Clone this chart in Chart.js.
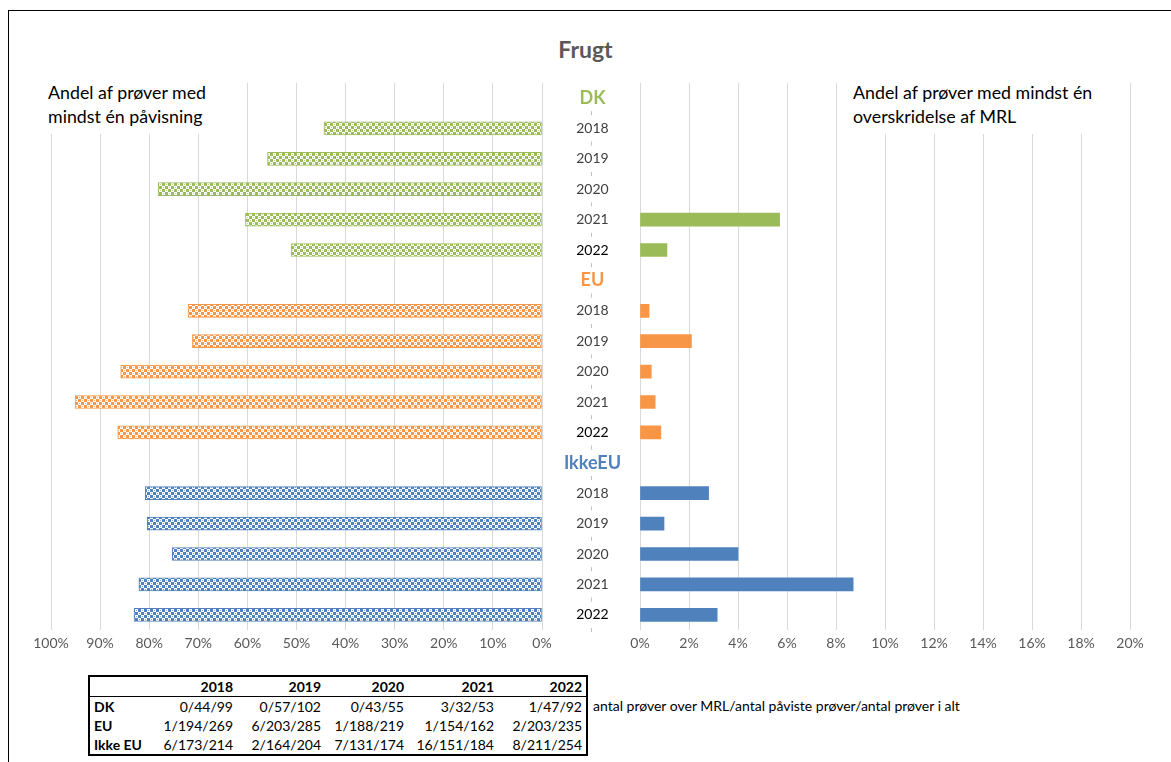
<!DOCTYPE html>
<html lang="da">
<head>
<meta charset="utf-8">
<title>Frugt</title>
<script src="https://cdn.jsdelivr.net/npm/chart.js@4.4.0/dist/chart.umd.min.js"></script>
<style>
    html, body { margin: 0; padding: 0; background: #fff; }
    body { width: 1171px; height: 762px; position: relative; overflow: hidden; font-family: Lato, "Open Sans", sans-serif; }
    .frame { position: absolute; left: 8px; top: 10px; right: -2px; bottom: -2px; border-left: 1px solid #000; border-top: 1px solid #000; }
    .title { position: absolute; left: 0; width: 1171px; top: 35px; text-align: center; font-weight: bold; font-size: 23px; color: #595959; }
    .note { position: absolute; z-index: 2; background: #fff; padding: 2px 8px 6px 8px; font-size: 17.8px; line-height: 24px; color: #000; white-space: nowrap; }
    .box { position: absolute; z-index: 1; }
    table.counts { position: absolute; left: 88px; top: 675px; border-collapse: collapse; border: 2px solid #000; font-size: 14px; table-layout: fixed; }
    table.counts td, table.counts th { padding: 0 4px; height: 19px; text-align: right; white-space: nowrap; }
    table.counts th { font-weight: bold; }
    table.counts thead tr { border-bottom: 1px solid #000; }
    table.counts td.row { text-align: left; font-weight: bold; }
    .legend-text { position: absolute; left: 593px; top: 697px; font-size: 14px; white-space: nowrap; }
</style>
</head>
<body>
<div class="frame"></div>
<div class="title">Frugt</div>
<div class="note" style="left:40px; top:78px;">Andel af prøver med<br>mindst én påvisning</div>
<div class="note" style="left:845px; top:78px;">Andel af prøver med mindst én<br>overskridelse af MRL</div>

<div class="box" style="left:0; top:0;"><canvas id="leftChart" width="552" height="660"></canvas></div>
<div class="box" style="left:542px; top:0;"><canvas id="rightChart" width="629" height="660"></canvas></div>

<table class="counts" id="countsTable"></table>
<div class="legend-text">antal prøver over MRL/antal påviste prøver/antal prøver i alt</div>

<script>
// Categories
const groups = ['DK', 'EU', 'IkkeEU'];
const years = ['2018', '2019', '2020', '2021', '2022'];
const groupColors = ['#9BBB59', '#F79646', '#4F81BD'];

// Andel af prøver med mindst én påvisning (%)
const detectDK = [44.4, 55.9, 78.2, 60.4, 51.1];
const detectEU = [72.1, 71.2, 85.8, 95.1, 86.4];
const detectIkkeEU = [80.8, 80.4, 75.3, 82.1, 83.1];

// Andel af prøver med mindst én overskridelse af MRL (%)
const mrlDK = [0, 0, 0, 5.7, 1.1];
const mrlEU = [0.37, 2.1, 0.46, 0.62, 0.85];
const mrlIkkeEU = [2.8, 0.98, 4.0, 8.7, 3.15];

// Axis ticks
const leftTicks = [0, 10, 20, 30, 40, 50, 60, 70, 80, 90, 100];
const rightTicks = [0, 2, 4, 6, 8, 10, 12, 14, 16, 18, 20];

// Table of counts (over MRL / detected / total)
const tableRows = ['DK', 'EU', 'Ikke EU'];
const countsDK = ['0/44/99', '0/57/102', '0/43/55', '3/32/53', '1/47/92'];
const countsEU = ['1/194/269', '6/203/285', '1/188/219', '1/154/162', '2/203/235'];
const countsIkkeEU = ['6/173/214', '2/164/204', '7/131/174', '16/151/184', '8/211/254'];

const CHART_TOP = 82.8;
const AXIS_HEIGHT = 30;

/**
 * Builds the 18 category rows: a header per group followed by its years.
 */
function buildRows() {
    const labels = [];
    const groupOf = [];
    groups.forEach((g, gi) => {
        labels.push(g);
        groupOf.push({ group: gi, header: true });
        years.forEach(y => {
            labels.push(y);
            groupOf.push({ group: gi, header: false });
        });
    });
    return { labels, groupOf };
}

/**
 * Flattens the group series into one list, with null on header rows.
 */
function flatten(series) {
    const out = [];
    series.forEach(values => {
        out.push(null);
        values.forEach(v => out.push(v));
    });
    return out;
}

/**
 * Makes a small checker pattern in the given colour.
 */
function makePattern(color) {
    const tile = document.createElement('canvas');
    tile.width = 6;
    tile.height = 6;
    const c = tile.getContext('2d');
    c.fillStyle = color;
    c.fillRect(0, 0, 6, 6);
    c.fillStyle = '#ffffff';
    c.fillRect(0, 0, 3, 3);
    c.fillRect(3, 3, 3, 3);
    c.globalAlpha = 0.7;
    c.fillStyle = color;
    c.fillRect(1, 1, 1, 1);
    c.fillRect(4, 4, 1, 1);
    return c.createPattern(tile, 'repeat');
}

const rows = buildRows();
const patterns = groupColors.map(makePattern);

const xGrid = { color: '#d9d9d9', lineWidth: 1, drawTicks: false };
const tickFont = { family: 'Lato', size: 14 };

/**
 * Left chart: share of samples with at least one detection (reversed axis).
 */
function createLeftChart() {
    new Chart(document.getElementById('leftChart'), {
        type: 'bar',
        data: {
            labels: rows.labels,
            datasets: [{
                data: flatten([detectDK, detectEU, detectIkkeEU]),
                backgroundColor: ctx => patterns[rows.groupOf[ctx.dataIndex].group],
                borderColor: ctx => groupColors[rows.groupOf[ctx.dataIndex].group],
                borderWidth: 1,
                borderSkipped: false,
                barThickness: 13
            }]
        },
        options: {
            indexAxis: 'y',
            responsive: false,
            animation: false,
            layout: { padding: { left: 51, right: 10, top: CHART_TOP, bottom: 0 } },
            plugins: { legend: { display: false }, tooltip: { enabled: false } },
            scales: {
                x: {
                    reverse: true,
                    min: 0,
                    max: 100,
                    afterBuildTicks: scale => { scale.ticks = leftTicks.map(v => ({ value: v })); },
                    afterFit: scale => { scale.height = AXIS_HEIGHT; },
                    grid: xGrid,
                    border: { display: false },
                    ticks: { color: '#595959', font: tickFont, padding: 5, callback: v => v + '%' }
                },
                y: { display: false }
            }
        }
    });
}

/**
 * Draws the short dashes of the centre axis between category labels.
 */
const axisDashes = {
    id: 'axisDashes',
    afterDraw(chart) {
        const y = chart.scales.y;
        const ctx = chart.ctx;
        const step = (y.bottom - y.top) / rows.labels.length;
        ctx.save();
        ctx.strokeStyle = '#bfbfbf';
        ctx.lineWidth = 1;
        for (let i = 1; i <= rows.labels.length; i++) {
            const py = y.top + step * i;
            ctx.beginPath();
            ctx.moveTo(49.5, py - 2);
            ctx.lineTo(49.5, py + 2);
            ctx.stroke();
        }
        ctx.restore();
    }
};

/**
 * Right chart: share of samples with at least one MRL exceedance.
 */
function createRightChart() {
    new Chart(document.getElementById('rightChart'), {
        type: 'bar',
        data: {
            labels: rows.labels,
            datasets: [{
                data: flatten([mrlDK, mrlEU, mrlIkkeEU]),
                backgroundColor: ctx => ctx.raw ? groupColors[rows.groupOf[ctx.dataIndex].group] : 'rgba(0,0,0,0)',
                borderWidth: 0,
                barThickness: 13
            }]
        },
        options: {
            indexAxis: 'y',
            responsive: false,
            animation: false,
            layout: { padding: { left: 0, right: 41, top: CHART_TOP, bottom: 0 } },
            plugins: { legend: { display: false }, tooltip: { enabled: false } },
            scales: {
                x: {
                    min: 0,
                    max: 20,
                    afterBuildTicks: scale => { scale.ticks = rightTicks.map(v => ({ value: v })); },
                    afterFit: scale => { scale.height = AXIS_HEIGHT; },
                    grid: xGrid,
                    border: { display: false },
                    ticks: { color: '#595959', font: tickFont, padding: 5, callback: v => v + '%' }
                },
                y: {
                    afterFit: scale => { scale.width = 98; },
                    grid: { display: false, drawTicks: false },
                    border: { display: false },
                    ticks: {
                        autoSkip: false,
                        crossAlign: 'center',
                        padding: 19,
                        font: ctx => rows.groupOf[ctx.index].header
                            ? { family: 'Lato', size: 18, weight: 'bold' }
                            : { family: 'Lato', size: 14 },
                        color: ctx => {
                            const row = rows.groupOf[ctx.index];
                            if (row.header) return groupColors[row.group];
                            return rows.labels[ctx.index] === '2022' ? '#000000' : '#404040';
                        }
                    }
                }
            }
        },
        plugins: [axisDashes]
    });
}

/**
 * Fills the counts table below the chart.
 */
function loadTable() {
    const table = document.getElementById('countsTable');
    const widths = [58, 73, 80, 75, 82, 80];
    const head = '<thead><tr>' + ['', ...years].map((y, i) =>
        `<th style="width:${widths[i]}px">${y}</th>`).join('') + '</tr></thead>';
    const body = [countsDK, countsEU, countsIkkeEU].map((vals, r) =>
        `<tr><td class="row">${tableRows[r]}</td>${vals.map(v => `<td>${v}</td>`).join('')}</tr>`
    ).join('');
    table.innerHTML = head + '<tbody>' + body + '</tbody>';
}

createLeftChart();
createRightChart();
loadTable();
</script>
</body>
</html>
